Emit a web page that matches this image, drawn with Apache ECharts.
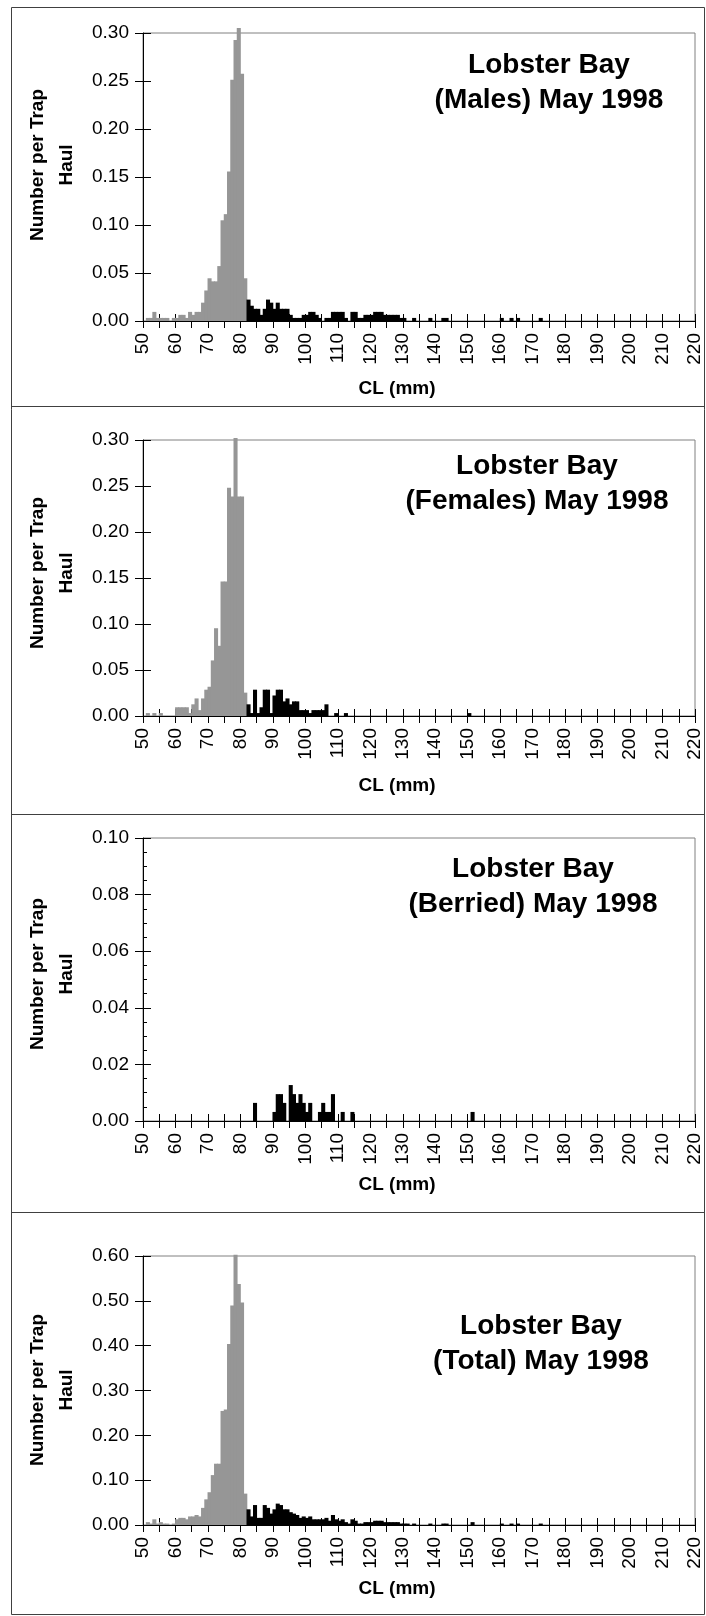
<!DOCTYPE html>
<html><head><meta charset="utf-8">
<script src="https://cdn.jsdelivr.net/npm/echarts@6/dist/echarts.min.js"></script>
<style>html,body{margin:0;padding:0;background:#fff}#c{width:706px;height:1616px}</style>
</head><body><div id="c"></div>
<script>
// 1-mm carapace-length bins (lower bound, mm)
const categories = [
50,51,52,53,54,55,56,57,58,59,60,61,62,63,64,65,66,67,68,69,
70,71,72,73,74,75,76,77,78,79,80,81,82,83,84,85,86,87,88,89,
90,91,92,93,94,95,96,97,98,99,100,101,102,103,104,105,106,107,108,109,
110,111,112,113,114,115,116,117,118,119,120,121,122,123,124,125,126,127,128,129,
130,131,132,133,134,135,136,137,138,139,140,141,142,143,144,145,146,147,148,149,
150,151,152,153,154,155,156,157,158,159,160,161,162,163,164,165,166,167,168,169,
170,171,172,173,174,175,176,177,178,179,180,181,182,183,184,185,186,187,188,189,
190,191,192,193,194,195,196,197,198,199,200,201,202,203,204,205,206,207,208,209,
210,211,212,213,214,215,216,217,218,219];
const xTickLabels = [50,60,70,80,90,100,110,120,130,140,150,160,170,180,190,200,210,220];
const legalStart = 82;

const males = [
0,.0032,.0032,.0095,.0032,.0032,.0032,.0032,0,.0032,
.0032,.0064,.0064,.0032,.0095,.0064,.0095,.0095,.0191,.0318,
.0445,.0413,.0413,.0572,.1049,.1113,.1558,.2512,.2926,.3053,
.2576,.0445,.0223,.0159,.0127,.0127,.0064,.0127,.0223,.0191,
.0127,.0191,.0127,.0127,.0127,.0064,.0032,.0032,.0032,.0064,
.0064,.0095,.0095,.0064,.0032,0,.0032,.0032,.0095,.0095,
.0095,.0095,.0032,0,.0095,.0095,.0032,.0032,.0064,.0064,
.0064,.0095,.0095,.0095,.0064,.0064,.0064,.0064,.0064,.0032,
.0032,0,0,.0032,0,0,0,0,.0032,0,
0,0,.0032,.0032,0,0,0,0,0,0,
0,0,0,0,0,0,0,0,0,0,
.0032,0,0,.0032,0,.0032,0,0,0,0,
0,0,.0032,0,0,0,0,0,0,0,
0,0,0,0,0,0,0,0,0,0,
0,0,0,0,0,0,0,0,0,0,
0,0,0,0,0,0,0,0,0,0,
0,0,0,0,0,0,0,0,0,0];

const females = [
0,.0032,0,.0032,0,.0032,0,0,0,0,
.0095,.0095,.0095,.0095,.0032,.0127,.0191,.0064,.0191,.0286,
.0318,.0604,.0954,.0763,.1463,.1463,.248,.2385,.3021,.2385,
.2385,.0254,.0127,.0032,.0286,.0032,.0095,.0286,.0286,.0032,
.0223,.0286,.0286,.0159,.0191,.0127,.0159,.0159,.0064,.0064,
.0064,.0032,.0064,.0064,.0064,.0064,.0127,0,0,.0032,
0,0,.0032,0,0,0,0,0,0,0,
0,0,0,0,0,0,0,0,0,0,
0,0,0,0,0,0,0,0,0,0,
0,0,0,0,0,0,0,0,0,0,
.0032,0,0,0,0,0,0,0,0,0,
0,0,0,0,0,0,0,0,0,0,
0,0,0,0,0,0,0,0,0,0,
0,0,0,0,0,0,0,0,0,0,
0,0,0,0,0,0,0,0,0,0,
0,0,0,0,0,0,0,0,0,0,
0,0,0,0,0,0,0,0,0,0];

const berried = [
0,0,0,0,0,0,0,0,0,0,
0,0,0,0,0,0,0,0,0,0,
0,0,0,0,0,0,0,0,0,0,
0,0,0,0,.0064,0,0,0,0,0,
.0032,.0095,.0095,.0064,0,.0127,.0095,.0064,.0095,.0064,
.0032,.0064,0,0,.0032,.0064,.0032,.0032,.0095,0,
0,.0032,0,0,.0032,0,0,0,0,0,
0,0,0,0,0,0,0,0,0,0,
0,0,0,0,0,0,0,0,0,0,
0,0,0,0,0,0,0,0,0,0,
0,.0032,0,0,0,0,0,0,0,0,
0,0,0,0,0,0,0,0,0,0,
0,0,0,0,0,0,0,0,0,0,
0,0,0,0,0,0,0,0,0,0,
0,0,0,0,0,0,0,0,0,0,
0,0,0,0,0,0,0,0,0,0,
0,0,0,0,0,0,0,0,0,0];

const total = [
0,.0064,.0032,.0127,.0032,.0064,.0032,.0032,0,.0032,
.0127,.0159,.0159,.0127,.0191,.0191,.0223,.0191,.0382,.0572,
.0731,.1113,.1367,.1367,.2544,.2576,.4039,.4897,.603,.5374,
.4961,.07,.035,.0191,.0445,.0159,.0159,.0445,.0382,.0254,
.035,.0477,.0445,.035,.035,.0286,.0254,.0223,.0159,.0191,
.0159,.0191,.0127,.0127,.0127,.0127,.0159,.0095,.0223,.0127,
.0095,.0127,.0064,.0032,.0127,.0095,.0032,.0032,.0064,.0064,
.0064,.0095,.0095,.0095,.0064,.0064,.0064,.0064,.0064,.0032,
.0032,.0032,0,.0032,0,0,0,0,.0032,0,
0,0,.0032,.0032,0,0,0,0,0,0,
0,.0064,0,0,0,0,0,0,0,0,
.0032,0,0,.0032,0,.0032,0,0,0,0,
0,0,.0032,0,0,0,0,0,0,0,
0,0,0,0,0,0,0,0,0,0,
0,0,0,0,0,0,0,0,0,0,
0,0,0,0,0,0,0,0,0,0,
0,0,0,0,0,0,0,0,0,0];

const titles = ['Lobster Bay\n(Males) May 1998','Lobster Bay\n(Females) May 1998','Lobster Bay\n(Berried) May 1998','Lobster Bay\n(Total) May 1998'];
const yMax = [0.30, 0.30, 0.10, 0.60];
const yStep = [0.05, 0.05, 0.02, 0.10];
const seriesData = [males, females, berried, total];

// layout (pixels)
const layout = [
  {top:33,  h:288, titleX:549, titleY:83,   nameGap:58, yNameY:165},
  {top:440, h:276, titleX:537, titleY:484,  nameGap:60, yNameY:573},
  {top:838, h:283, titleX:533, titleY:887,  nameGap:54, yNameY:974},
  {top:1256,h:269, titleX:541, titleY:1344, nameGap:54, yNameY:1390}
];
const FONT = '"Liberation Sans", Arial, Helvetica, sans-serif';
const GRAY = '#969696';
const BLACK = '#000000';
const grid=[], xAxis=[], yAxis=[], series=[], graphic=[];

layout.forEach((g,i)=>{
  grid.push({left:143, top:g.top, width:552, height:g.h, show:true, borderColor:'#808080', borderWidth:1, backgroundColor:'transparent', containLabel:false, outerBoundsMode:'none'});
  xAxis.push({gridIndex:i, type:'value', min:50, max:220, interval:5, position:'bottom',
    axisLine:{show:true, onZero:false, lineStyle:{color:'#000', width:1}},
    axisTick:{show:true, inside:false, length:7, lineStyle:{color:'#000'}},
    axisLabel:{show:true, rotate:90, margin:12, fontSize:19, color:'#000', fontFamily:FONT,
      formatter: v => xTickLabels.includes(Math.round(v)) ? String(Math.round(v)) : ''},
    splitLine:{show:false},
    name:'CL (mm)', nameLocation:'middle', nameGap:g.nameGap,
    nameTextStyle:{fontSize:19, fontWeight:'bold', color:'#000', fontFamily:FONT, padding:[0,44,0,0]}});
  xAxis.push({gridIndex:i, type:'value', min:50, max:220, interval:5, position:'bottom',
    axisLine:{show:false, onZero:false}, axisTick:{show:true, inside:true, length:7, lineStyle:{color:'#000'}},
    axisLabel:{show:false}, splitLine:{show:false}});
  xAxis.push({gridIndex:i, type:'category', data:categories, show:false, boundaryGap:true, position:'bottom'});
  yAxis.push({gridIndex:i, type:'value', position:'left', min:0, max:yMax[i], interval:yStep[i],
    axisLine:{show:true, onZero:false, lineStyle:{color:'#000', width:1}},
    axisTick:{show:true, inside:false, length:8, lineStyle:{color:'#000'}},
    axisLabel:{margin:14, fontSize:19, color:'#000', fontFamily:FONT, formatter: v => v.toFixed(2)},
    splitLine:{show:false}});
  yAxis.push({gridIndex:i, type:'value', position:'left', min:0, max:yMax[i], interval:yStep[i],
    axisLine:{show:false, onZero:false}, axisTick:{show:true, inside:true, length:8, lineStyle:{color:'#000'}},
    axisLabel:{show:false}, splitLine:{show:false},
    minorTick: i===2 ? {show:true, splitNumber:4, length:4, lineStyle:{color:'#000'}} : {show:false}});
  series.push({type:'bar', xAxisIndex:3*i+2, yAxisIndex:2*i,
    data: seriesData[i].map((v,k) => {
      const c = categories[k] < legalStart ? GRAY : BLACK;
      return {value:v, itemStyle:{color:c, borderWidth:0}};
    }),
    barWidth:'125%', barGap:'-100%', clip:false, silent:true});
  graphic.push({type:'text', x:g.titleX, y:g.titleY, style:{text:titles[i], font:'bold 28px '+FONT, fill:'#000', textAlign:'center', textVerticalAlign:'middle', lineHeight:35}});
  graphic.push({type:'text', x:52, y:g.yNameY, rotation:Math.PI/2, style:{text:'Number per Trap\nHaul', font:'bold 19px '+FONT, fill:'#000', textAlign:'center', textVerticalAlign:'middle', lineHeight:29}});
});

graphic.push({type:'rect', shape:{x:11.5, y:7.5, width:693, height:1607}, style:{fill:'none', stroke:'#404040', lineWidth:1}});
[406.5, 814.5, 1212.5].forEach(y => graphic.push({type:'line', shape:{x1:11, y1:y, x2:705, y2:y}, style:{stroke:'#404040', lineWidth:1}}));

const chart = echarts.init(document.getElementById('c'), null, {renderer:'canvas', width:706, height:1616});
chart.setOption({animation:false, backgroundColor:'#fff', grid, xAxis, yAxis, series, graphic});
</script>
</body></html>
